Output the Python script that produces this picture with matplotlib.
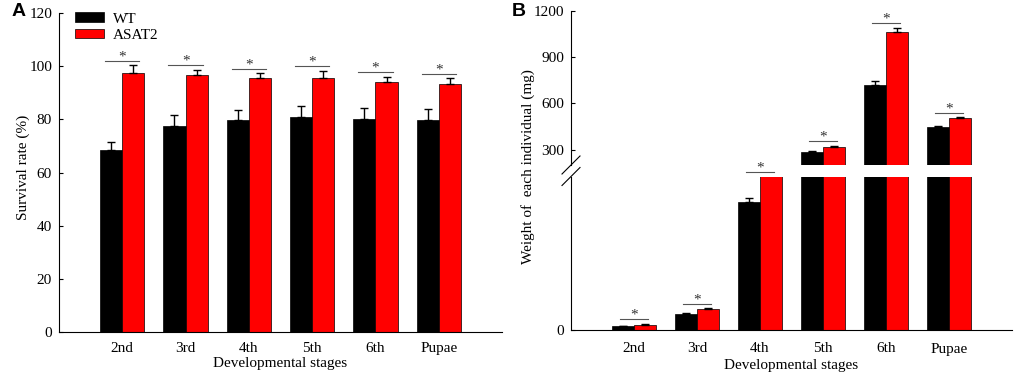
import numpy as np
import matplotlib
matplotlib.use("Agg")
import matplotlib.pyplot as plt
from matplotlib.transforms import offset_copy

plt.rcParams['font.family'] = ['Liberation Serif', 'DejaVu Serif']
plt.rcParams['font.size'] = 11

# data
stages = ['2nd', '3rd', '4th', '5th', '6th', 'Pupae']
surv_wt = [68.5, 77.6, 79.6, 81.0, 80.3, 79.8]
surv_wt_err = [2.9, 4.1, 3.8, 3.9, 4.1, 4.2]
surv_asat = [97.6, 96.5, 95.4, 95.7, 94.1, 93.2]
surv_asat_err = [2.8, 2.1, 2.0, 2.5, 2.0, 2.3]

weight_wt = [4.7, 20.4, 162.3, 283, 718, 447]
weight_wt_err = [0.8, 1.0, 5.1, 5, 26, 6]
weight_asat = [6.8, 26.7, 198, 318, 1061, 505]
weight_asat_err = [1.0, 1.0, 1.5, 8, 29, 6]

RED = '#ff0000'
W = 0.35
x = np.arange(len(stages))


def draw_bars(ax, wt, wt_err, asat, asat_err, floor=None):
    ax.bar(x - W / 2, wt, W, color='black', edgecolor='black', lw=0.5, label='WT')
    ax.bar(x + W / 2, asat, W, color=RED, edgecolor='black', lw=0.5, label='ASAT2')
    for xs, v, e in ((x - W / 2, wt, wt_err), (x + W / 2, asat, asat_err)):
        v = np.asarray(v, float)
        e = np.asarray(e, float)
        keep = np.ones(len(v), bool) if floor is None else v >= floor
        ax.errorbar(xs[keep], v[keep], yerr=[np.zeros(keep.sum()), e[keep]],
                    fmt='none', ecolor='black', elinewidth=1, capsize=3, capthick=1)


def star(ax, xc, ytop, half):
    fig = ax.figure
    tl = offset_copy(ax.transData, fig=fig, x=0, y=4.5, units='dots')
    ts = offset_copy(ax.transData, fig=fig, x=0, y=5, units='dots')
    ax.plot([xc - half, xc + half], [ytop, ytop], color='#555555', lw=0.8,
            transform=tl, clip_on=False, zorder=5)
    ax.text(xc, ytop, '*', ha='center', va='baseline', fontsize=11,
            color='#333333', transform=ts, clip_on=False, zorder=5)


def style(ax):
    for s in ['top', 'right']:
        ax.spines[s].set_visible(False)
    ax.tick_params(axis='y', direction='in', length=3, pad=5, width=0.8)
    ax.tick_params(axis='x', length=0, pad=7)
    ax.set_xlim(-1.0, 6.0)


fig = plt.figure(figsize=(10.2, 3.77), dpi=100)

# panel A
axA = fig.add_axes([59 / 1020, 45 / 377, 443 / 1020, 319 / 377])
draw_bars(axA, surv_wt, surv_wt_err, surv_asat, surv_asat_err)
style(axA)
axA.set_ylim(0, 120)
axA.set_yticks(np.arange(0, 121, 20))
axA.set_xticks(x)
axA.set_xticklabels(stages)
axA.set_xlabel('Developmental stages', labelpad=1.5)
for i in range(len(stages)):
    star(axA, x[i], max(surv_wt[i] + surv_wt_err[i], surv_asat[i] + surv_asat_err[i]), 0.27)
axA.legend(loc='upper left', bbox_to_anchor=(0.005, 1.045), frameon=False,
           handlelength=1.9, handleheight=0.6, labelspacing=0.2, handletextpad=0.6)
fig.text(23 / 1020, 1 - 167 / 377, 'Survival rate (%)', rotation=90,
         ha='center', va='center', fontsize=11)

# panel B, broken y axis
low_top = 195
up_bottom = 200
axBu = fig.add_axes([571 / 1020, 212 / 377, 441 / 1020, 154 / 377])
axBl = fig.add_axes([571 / 1020, 47 / 377, 441 / 1020, 153.3 / 377])
axBu.patch.set_visible(False)
axBl.patch.set_visible(False)
draw_bars(axBl, weight_wt, weight_wt_err, weight_asat, weight_asat_err)
draw_bars(axBu, weight_wt, weight_wt_err, weight_asat, weight_asat_err, floor=up_bottom)
for ax in (axBl, axBu):
    style(ax)
axBl.set_ylim(0, low_top)
axBl.set_yticks([0])
axBl.set_xticks(x)
axBl.set_xticklabels(stages)
axBl.tick_params(axis='x', pad=9)
axBl.set_xlabel('Developmental stages', labelpad=2.5)
axBu.set_ylim(up_bottom, 1200)
axBu.set_yticks([300, 600, 900, 1200])
axBu.spines['bottom'].set_visible(False)
axBu.set_xticks([])

for i in range(len(stages)):
    top = max(weight_wt[i] + weight_wt_err[i], weight_asat[i] + weight_asat_err[i])
    if top < up_bottom:
        star(axBl, x[i], min(top, low_top), 0.22)
    else:
        star(axBu, x[i], top, 0.22)

# break marks
for y0 in (165, 176.5):
    fig.add_artist(plt.Line2D([562 / 1020, 580 / 1020],
                              [1 - (y0 + 9) / 377, 1 - (y0 - 9) / 377],
                              color='black', lw=0.8))

fig.text(528 / 1020, 1 - 167 / 377, 'Weight of  each individual (mg)', rotation=90,
         ha='center', va='center', fontsize=11)

fig.text(12 / 1020, 1 - 11 / 377, 'A', fontsize=14, fontweight='bold',
         family='Liberation Sans', ha='left', va='center')
fig.text(512 / 1020, 1 - 11 / 377, 'B', fontsize=14, fontweight='bold',
         family='Liberation Sans', ha='left', va='center')

fig.savefig('out.png', dpi=100)
